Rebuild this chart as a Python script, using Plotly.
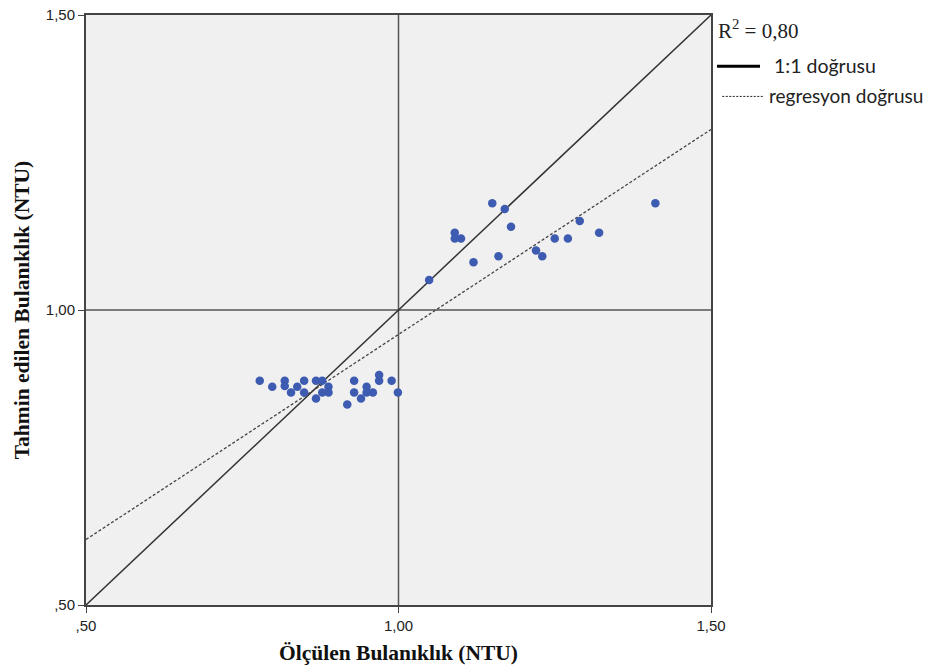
import plotly.graph_objects as go

# Measured (x) and predicted (y) turbidity, NTU
measured = [0.778, 0.798, 0.818, 0.818, 0.828, 0.838, 0.849, 0.849, 0.868, 0.878,
            0.888, 0.888, 0.878, 0.868, 0.918, 0.929, 0.929, 0.940, 0.949, 0.949,
            0.959, 0.969, 0.969, 0.989, 0.999,
            1.150, 1.170, 1.180, 1.090, 1.090, 1.100, 1.120, 1.160, 1.220, 1.230,
            1.250, 1.271, 1.290, 1.321, 1.411, 1.049]
predicted = [0.880, 0.870, 0.880, 0.871, 0.860, 0.870, 0.880, 0.860, 0.880, 0.880,
             0.870, 0.860, 0.860, 0.850, 0.840, 0.880, 0.860, 0.850, 0.870, 0.860,
             0.860, 0.890, 0.880, 0.880, 0.860,
             1.181, 1.171, 1.141, 1.131, 1.121, 1.121, 1.081, 1.091, 1.101, 1.091,
             1.121, 1.121, 1.151, 1.131, 1.181, 1.051]

line_x = [0.5, 1.5]
one_to_one_y = [0.5, 1.5]
regression_y = [0.611, 1.306]

tick_vals = [0.5, 1.0, 1.5]
tick_text = [",50", "1,00", "1,50"]

fig = go.Figure()
fig.add_trace(go.Scatter(x=line_x, y=one_to_one_y, mode="lines",
                         line=dict(color="#333333", width=1.5), showlegend=False))
fig.add_trace(go.Scatter(x=line_x, y=regression_y, mode="lines",
                         line=dict(color="#444444", width=1.3, dash="3px,2px"), showlegend=False))
fig.add_trace(go.Scatter(x=measured, y=predicted, mode="markers",
                         marker=dict(color="#3d5bb0", size=8.5), showlegend=False))

# reference lines at 1,00
fig.add_shape(type="line", xref="x", yref="paper", x0=1.0, x1=1.0, y0=0, y1=1,
              line=dict(color="#555555", width=1.5), layer="below")
fig.add_shape(type="line", xref="paper", yref="y", x0=0, x1=1, y0=1.0, y1=1.0,
              line=dict(color="#555555", width=1.5), layer="below")

tick_font = dict(family="Liberation Sans Narrow, Arial Narrow, Liberation Sans, Arial", size=15, color="#222222")
title_font = dict(family="Liberation Serif, Times New Roman, serif", size=21.5, color="#111111")

fig.update_xaxes(range=[0.5, 1.5], tickvals=tick_vals, ticktext=tick_text,
                 showgrid=False, zeroline=False, showline=True, mirror=True,
                 linecolor="#444444", linewidth=2, ticks="outside", ticklen=6,
                 tickcolor="#444444", tickfont=tick_font, ticklabeloverflow="allow",
                 title=dict(text="<b>Ölçülen Bulanıklık (NTU)</b>", font=title_font, standoff=12))
fig.update_yaxes(range=[0.5, 1.5], tickvals=tick_vals, ticktext=tick_text,
                 showgrid=False, zeroline=False, showline=True, mirror=True,
                 linecolor="#444444", linewidth=2, ticks="outside", ticklen=6,
                 tickcolor="#444444", tickfont=tick_font, ticklabeloverflow="allow",
                 title=dict(text="<b>Tahmin edilen Bulanıklık (NTU)</b>", font=title_font, standoff=10))

# Legend-like annotations on the right
fig.add_annotation(xref="paper", yref="paper", x=1.008, y=0.975, xanchor="left", yanchor="middle",
                   text="R<sup>2</sup> = 0,80", showarrow=False,
                   font=dict(family="Liberation Serif, DejaVu Serif, serif", size=21, color="#222222"))
fig.add_shape(type="line", xref="paper", yref="paper", x0=1.0096, x1=1.0784, y0=0.913, y1=0.913,
              line=dict(color="#000000", width=3))
fig.add_annotation(xref="paper", yref="paper", x=1.097, y=0.915, xanchor="left", yanchor="middle",
                   text="1:1 doğrusu", showarrow=False,
                   font=dict(family="Lato, Carlito, Open Sans, sans-serif", size=19.5, color="#222222"))
fig.add_shape(type="line", xref="paper", yref="paper", x0=1.018, x1=1.085, y0=0.862, y1=0.862,
              line=dict(color="#222222", width=1, dash="2px,1.5px"))
fig.add_annotation(xref="paper", yref="paper", x=1.09, y=0.864, xanchor="left", yanchor="middle",
                   text="regresyon doğrusu", showarrow=False,
                   font=dict(family="Lato, Carlito, Open Sans, sans-serif", size=19, color="#222222"))

fig.update_layout(width=933, height=668,
                  margin=dict(l=86, r=222, t=15, b=63, autoexpand=False),
                  plot_bgcolor="#f0f0f0", paper_bgcolor="#ffffff")

# remove the page's default body margin so the figure sits at the window's top-left corner
fig.write_html("out.html", config={"displayModeBar": False},
               post_script="document.body.style.margin='0';document.body.style.overflow='hidden';")
